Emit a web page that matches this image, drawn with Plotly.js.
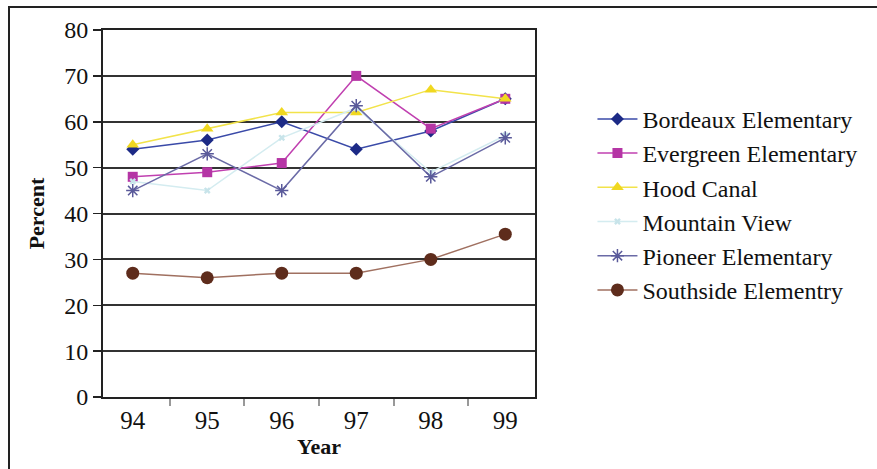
<!DOCTYPE html>
<html>
<head>
<meta charset="utf-8">
<script src="https://cdn.plot.ly/plotly-3.0.1.min.js"></script>
<style>
  html, body { margin: 0; padding: 0; background: #fff; }
  #wrap { position: relative; width: 877px; height: 469px; overflow: hidden; }
  #chart { position: absolute; left: 0; top: 0; width: 877px; height: 469px; }
  #frame { position: absolute; left: 8px; top: 6px; width: 880px; height: 480px;
           border-top: 2px solid #222; border-left: 2px solid #222; pointer-events: none; }
</style>
</head>
<body>
<div id="wrap">
  <div id="chart"></div>
  <div id="frame"></div>
</div>
<script>
const years = ['94', '95', '96', '97', '98', '99'];

const bordeaux   = [54, 56, 60, 54, 58, 65];
const evergreen  = [48, 49, 51, 70, 58.5, 65];
const hoodCanal  = [55, 58.5, 62, 62, 67, 65];
const mountain   = [47, 45, 56.5, 63, 49, 57];
const pioneer    = [45, 53, 45, 63.5, 48, 56.5];
const southside  = [27, 26, 27, 27, 30, 35.5];

const names = ['Bordeaux Elementary', 'Evergreen Elementary', 'Hood Canal',
               'Mountain View', 'Pioneer Elementary', 'Southside Elementry'];

const serif = "'Liberation Serif'";

const traces = [
  {y: bordeaux,  name: names[0], line: {color: '#3a4aa8', width: 1.5},
   marker: {symbol: 'diamond', size: 10, color: '#1c2a86'}},
  {y: evergreen, name: names[1], line: {color: '#c040b0', width: 1.5},
   marker: {symbol: 'square', size: 10, color: '#b535a5'}},
  {y: hoodCanal, name: names[2], line: {color: '#f2e34a', width: 1.5},
   marker: {symbol: 'triangle-up', size: 11, color: '#f0d820'}},
  {y: mountain,  name: names[3], line: {color: '#d4ecf0', width: 1.5},
   marker: {symbol: 'x', size: 6, color: '#c8e4ea'}},
  {y: pioneer,   name: names[4], line: {color: '#6a6aa6', width: 1.5},
   marker: {symbol: 'asterisk-open', size: 11, color: '#5a5a9a', line: {width: 1.5, color: '#5a5a9a'}}},
  {y: southside, name: names[5], line: {color: '#a07060', width: 1.5},
   marker: {symbol: 'circle', size: 13, color: '#5e2c1c'}}
].map((t, i) => Object.assign({
  x: years, type: 'scatter', mode: 'lines+markers', legendgroup: 'g' + i
}, t));

const layout = {
  width: 877, height: 469,
  margin: {l: 103, r: 342, t: 30, b: 72, pad: 0},
  paper_bgcolor: '#ffffff', plot_bgcolor: '#ffffff',
  font: {family: serif, color: '#111', size: 20},
  showlegend: true,
  legend: {
    x: 1.133, y: 0.818, xanchor: 'left', yanchor: 'top',
    font: {family: serif, size: 24, color: '#111'},
    tracegroupgap: 0, bgcolor: 'rgba(0,0,0,0)', itemwidth: 40
  },
  xaxis: {
    type: 'category', categoryorder: 'array', categoryarray: years,
    tickson: 'boundaries', ticks: 'outside', ticklen: 7, tickcolor: '#999', tickwidth: 2,
    showline: true, linecolor: '#222', linewidth: 2, mirror: true,
    showgrid: false, zeroline: false,
    tickfont: {family: serif, size: 25, color: '#111'},
    title: {text: '<b>Year</b>', font: {family: serif, size: 22, color: '#111'}, standoff: 6}
  },
  yaxis: {
    range: [0, 80], dtick: 10, tick0: 0,
    ticks: 'outside', ticklen: 8, tickcolor: '#222', tickwidth: 1.5,
    showline: true, linecolor: '#222', linewidth: 2, mirror: true,
    showgrid: true, gridcolor: '#333333', gridwidth: 2, zeroline: false,
    tickfont: {family: serif, size: 24, color: '#111'},
    title: {text: '<b>Percent</b>', font: {family: serif, size: 22, color: '#111'}, standoff: 14}
  }
};

Plotly.newPlot('chart', traces, layout, {displayModeBar: false, staticPlot: true});
</script>
</body>
</html>
